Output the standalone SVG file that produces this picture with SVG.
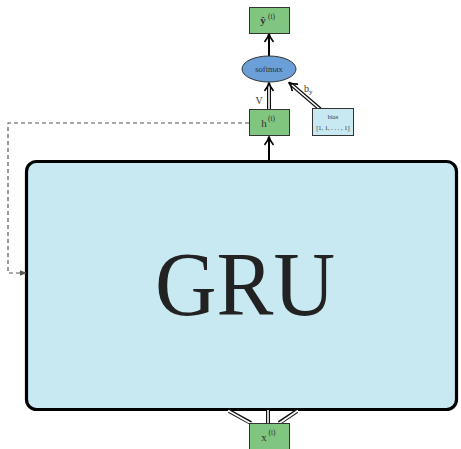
<svg xmlns="http://www.w3.org/2000/svg" width="461" height="449" viewBox="0 0 461 449">
<style>
.box{fill:#80c680;stroke:#333;stroke-width:1}
.t{font-family:"Liberation Serif","DejaVu Serif",serif;fill:#333}
.big{fill:#222}
.dblo{stroke:#111;stroke-width:4;fill:none}
.dbli{stroke:#fff;stroke-width:1.6;fill:none}
</style>
<defs>
<marker id="ah" viewBox="0 0 10 10" refX="9" refY="5" markerWidth="10" markerHeight="10" markerUnits="userSpaceOnUse" orient="auto">
<path d="M1,0.5 Q5,4 9.5,5 Q5,6 1,9.5" fill="none" stroke="#000" stroke-width="1.6"/>
</marker>
<marker id="ahd" viewBox="0 0 10 10" refX="9" refY="5" markerWidth="7" markerHeight="7" markerUnits="userSpaceOnUse" orient="auto">
<path d="M0,1 L10,5 L0,9 Z" fill="#555"/>
</marker>
</defs>
<g id="gru">
<rect x="26.5" y="161.5" width="430" height="248" rx="10" fill="#c8e9f1" stroke="#000" stroke-width="3.2"/>
<text class="t big" x="245" y="315" font-size="90" text-anchor="middle" textLength="180" lengthAdjust="spacingAndGlyphs">GRU</text>
</g>
<g id="connectors">
<line x1="269" y1="57" x2="269" y2="34" stroke="#000" stroke-width="2" marker-end="url(#ah)"/>
<line x1="269" y1="161" x2="269" y2="137" stroke="#000" stroke-width="2" marker-end="url(#ah)"/>
<line class="dblo" x1="269" y1="109" x2="269" y2="86"/>
<line class="dbli" x1="269" y1="110" x2="269" y2="86"/>
<line x1="269" y1="86" x2="269" y2="83" stroke="#000" stroke-width="1" marker-end="url(#ah)"/>
<line class="dblo" x1="320" y1="109" x2="292" y2="85"/>
<line class="dbli" x1="321" y1="110" x2="292" y2="85"/>
<line x1="292" y1="85" x2="289" y2="82.5" stroke="#000" stroke-width="1" marker-end="url(#ah)"/>
<path d="M249,123 H8 V273 H26" fill="none" stroke="#555" stroke-width="1.2" stroke-dasharray="4,3" marker-end="url(#ahd)"/>
<line class="dblo" x1="229" y1="411" x2="251" y2="423"/>
<line class="dbli" x1="228" y1="410.5" x2="251" y2="423.5"/>
<line class="dblo" x1="268" y1="411" x2="268" y2="423"/>
<line class="dbli" x1="268" y1="410" x2="268" y2="424"/>
<line class="dblo" x1="297" y1="411" x2="279" y2="423"/>
<line class="dbli" x1="298" y1="410.5" x2="279" y2="423.5"/>
<text class="t" x="259" y="104" font-size="10" text-anchor="middle">V</text>
<text class="t" x="304" y="92" font-size="10">b<tspan font-size="7" dy="2">y</tspan></text>
</g>
<g id="yhat">
<rect class="box" x="249.5" y="7.5" width="40" height="26"/>
<text class="t" x="263" y="24" font-size="11" font-weight="bold" text-anchor="middle">ŷ</text>
<text class="t" x="268" y="19" font-size="7.5">(t)</text>
</g>
<g id="softmax">
<ellipse cx="269" cy="69" rx="27" ry="13" fill="#6a9fd8" stroke="#333" stroke-width="1"/>
<text class="t" x="269" y="72" font-size="8.5" text-anchor="middle">softmax</text>
</g>
<g id="h">
<rect class="box" x="249.5" y="109.5" width="40" height="26"/>
<text class="t" x="264" y="127" font-size="11" text-anchor="middle">h</text>
<text class="t" x="268" y="121" font-size="7.5">(t)</text>
</g>
<g id="bias">
<rect x="312.5" y="108.5" width="41" height="27" fill="#c8e9f1" stroke="#333" stroke-width="1"/>
<text class="t" x="333" y="119" font-size="6.5" text-anchor="middle">bias</text>
<text class="t" x="333" y="130" font-size="6.5" text-anchor="middle">[1, 1, . . . , 1]</text>
</g>
<g id="x">
<rect class="box" x="249.5" y="423.5" width="40" height="26"/>
<text class="t" x="264" y="441" font-size="11" text-anchor="middle">x</text>
<text class="t" x="268.5" y="435" font-size="7.5">(t)</text>
</g>
</svg>
